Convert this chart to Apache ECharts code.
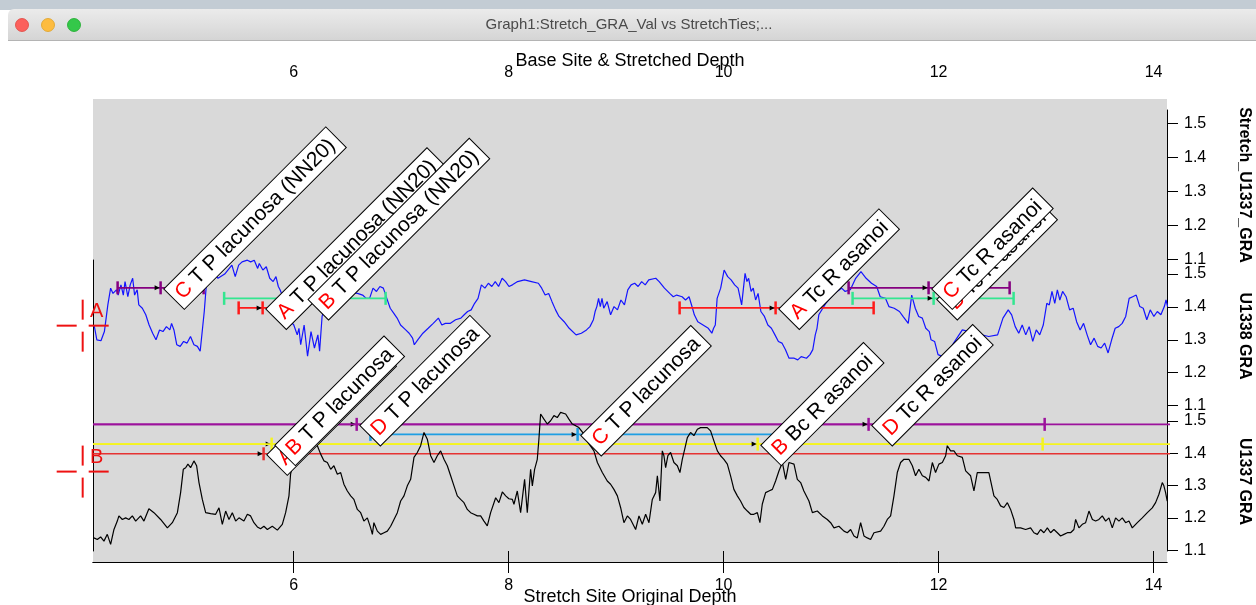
<!DOCTYPE html>
<html><head><meta charset="utf-8">
<script src="https://cdn.jsdelivr.net/npm/echarts@6/dist/echarts.min.js"></script>
<style>html,body{margin:0;padding:0;background:#fff}#c{width:1256px;height:605px}</style>
</head><body><div id="c"></div>
<script>
// ---------- DATA ----------
const depthTicks = [6, 8, 10, 12, 14];
const graTicks = [1.1, 1.2, 1.3, 1.4, 1.5];

const u1338Depth = [4.144,4.170,4.208,4.240,4.272,4.298,4.320,4.352,4.368,4.394,4.416,4.432,4.458,4.480,4.503,4.521,4.545,4.560,4.593,4.625,4.656,4.689,4.720,4.753,4.785,4.817,4.849,4.865,4.887,4.913,4.945,4.977,5.009,5.041,5.073,5.105,5.131,5.153,5.169,5.186,5.201,5.247,5.297,5.359,5.426,5.457,5.489,5.521,5.570,5.601,5.634,5.666,5.681,5.714,5.746,5.778,5.810,5.836,5.858,5.874,5.926,5.963,6.002,6.034,6.050,6.066,6.098,6.130,6.162,6.194,6.226,6.242,6.265,6.307,6.391,6.484,6.595,6.642,6.675,6.707,6.739,6.771,6.803,6.835,6.867,6.899,6.931,6.963,6.995,7.043,7.075,7.107,7.123,7.155,7.203,7.252,7.299,7.347,7.379,7.412,7.459,7.507,7.556,7.587,7.619,7.652,7.684,7.716,7.747,7.780,7.812,7.844,7.876,7.907,7.940,7.972,8.004,8.036,8.084,8.148,8.213,8.277,8.308,8.340,8.373,8.404,8.437,8.469,8.517,8.564,8.628,8.677,8.725,8.757,8.789,8.805,8.821,8.837,8.853,8.869,8.885,8.917,8.949,8.981,9.013,9.045,9.078,9.109,9.140,9.173,9.205,9.238,9.271,9.304,9.369,9.401,9.450,9.499,9.532,9.564,9.614,9.646,9.679,9.711,9.728,9.760,9.858,9.891,9.907,9.923,9.940,9.973,10.005,10.021,10.038,10.070,10.103,10.135,10.168,10.185,10.200,10.217,10.233,10.256,10.276,10.298,10.321,10.347,10.380,10.412,10.445,10.478,10.510,10.543,10.576,10.609,10.657,10.690,10.722,10.771,10.804,10.830,10.853,10.869,10.886,10.949,11.024,11.098,11.131,11.179,11.229,11.278,11.326,11.376,11.424,11.457,11.506,11.538,11.587,11.636,11.669,11.718,11.750,11.783,11.815,11.849,11.881,11.914,11.930,11.963,11.995,12.066,12.140,12.221,12.345,12.466,12.549,12.599,12.648,12.680,12.713,12.746,12.778,12.811,12.843,12.876,12.909,12.941,12.974,13.007,13.030,13.055,13.081,13.105,13.128,13.154,13.186,13.219,13.252,13.284,13.317,13.349,13.382,13.414,13.447,13.480,13.512,13.545,13.577,13.610,13.643,13.676,13.708,13.741,13.773,13.806,13.839,13.872,13.904,13.937,13.969,14.003,14.035,14.068,14.100,14.116,14.131];
const u1338Gra = [1.345,1.300,1.297,1.325,1.406,1.457,1.441,1.452,1.436,1.467,1.436,1.477,1.431,1.467,1.487,1.436,1.452,1.406,1.396,1.376,1.345,1.320,1.300,1.330,1.325,1.340,1.330,1.350,1.330,1.285,1.280,1.295,1.290,1.310,1.285,1.280,1.265,1.335,1.386,1.457,1.487,1.510,1.487,1.500,1.527,1.492,1.527,1.537,1.542,1.537,1.542,1.517,1.532,1.512,1.522,1.487,1.477,1.492,1.462,1.452,1.410,1.360,1.345,1.315,1.335,1.285,1.345,1.250,1.325,1.275,1.315,1.265,1.371,1.420,1.450,1.445,1.441,1.436,1.426,1.426,1.457,1.447,1.462,1.457,1.426,1.396,1.381,1.366,1.345,1.330,1.320,1.305,1.285,1.300,1.320,1.335,1.350,1.366,1.345,1.350,1.350,1.361,1.366,1.376,1.386,1.391,1.411,1.426,1.467,1.457,1.472,1.462,1.477,1.462,1.487,1.477,1.462,1.467,1.477,1.482,1.477,1.472,1.457,1.436,1.441,1.416,1.391,1.371,1.355,1.335,1.315,1.320,1.330,1.340,1.361,1.386,1.401,1.426,1.401,1.426,1.396,1.416,1.376,1.401,1.391,1.421,1.406,1.452,1.467,1.472,1.462,1.477,1.467,1.482,1.487,1.477,1.457,1.441,1.431,1.436,1.431,1.421,1.431,1.396,1.376,1.355,1.335,1.320,1.335,1.345,1.426,1.457,1.512,1.507,1.492,1.482,1.467,1.457,1.406,1.401,1.502,1.477,1.487,1.447,1.457,1.421,1.441,1.386,1.371,1.345,1.335,1.315,1.295,1.290,1.270,1.244,1.244,1.239,1.249,1.244,1.255,1.270,1.315,1.335,1.376,1.410,1.440,1.457,1.447,1.452,1.487,1.507,1.487,1.472,1.462,1.431,1.426,1.401,1.396,1.386,1.371,1.350,1.436,1.396,1.371,1.366,1.335,1.325,1.300,1.295,1.255,1.245,1.290,1.330,1.320,1.310,1.315,1.366,1.391,1.376,1.340,1.320,1.345,1.315,1.340,1.295,1.330,1.315,1.345,1.411,1.406,1.447,1.411,1.452,1.421,1.447,1.431,1.391,1.396,1.355,1.330,1.350,1.315,1.285,1.305,1.280,1.275,1.290,1.260,1.300,1.335,1.340,1.350,1.371,1.426,1.431,1.436,1.401,1.396,1.361,1.391,1.371,1.386,1.376,1.401,1.421,1.401];

const u1337Depth = [4.143,4.174,4.205,4.236,4.267,4.298,4.329,4.360,4.375,4.407,4.438,4.468,4.500,4.531,4.577,4.608,4.654,4.701,4.763,4.826,4.872,4.919,4.949,4.974,4.996,5.017,5.042,5.073,5.098,5.120,5.151,5.182,5.228,5.275,5.306,5.337,5.368,5.399,5.430,5.461,5.492,5.538,5.570,5.600,5.631,5.663,5.693,5.724,5.756,5.802,5.849,5.895,5.926,5.957,5.972,6.019,6.066,6.140,6.221,6.252,6.283,6.314,6.345,6.375,6.407,6.438,6.468,6.500,6.531,6.561,6.593,6.624,6.654,6.686,6.717,6.733,6.747,6.779,6.810,6.841,6.872,6.903,6.934,6.965,6.996,7.027,7.058,7.089,7.120,7.151,7.182,7.213,7.244,7.275,7.306,7.337,7.368,7.399,7.430,7.461,7.492,7.523,7.554,7.585,7.616,7.647,7.678,7.709,7.740,7.771,7.802,7.833,7.880,7.910,7.942,7.973,8.003,8.035,8.050,8.081,8.112,8.128,8.149,8.174,8.205,8.221,8.242,8.267,8.282,8.298,8.329,8.360,8.391,8.422,8.453,8.484,8.531,8.561,8.593,8.624,8.654,8.698,8.745,8.794,8.826,8.872,8.918,8.949,8.980,9.012,9.042,9.073,9.105,9.135,9.182,9.213,9.244,9.275,9.306,9.337,9.368,9.384,9.408,9.430,9.445,9.461,9.482,9.507,9.538,9.570,9.594,9.616,9.638,9.663,9.693,9.724,9.756,9.786,9.848,9.879,9.910,9.942,9.972,10.003,10.035,10.065,10.096,10.128,10.158,10.189,10.221,10.252,10.282,10.314,10.338,10.360,10.391,10.422,10.454,10.484,10.515,10.547,10.578,10.608,10.655,10.686,10.717,10.747,10.794,10.826,10.872,10.919,10.965,10.996,11.027,11.073,11.120,11.151,11.182,11.213,11.244,11.275,11.306,11.337,11.368,11.399,11.461,11.492,11.523,11.554,11.585,11.616,11.647,11.678,11.724,11.756,11.786,11.817,11.849,11.880,11.911,11.942,11.972,12.003,12.035,12.066,12.081,12.112,12.143,12.175,12.221,12.252,12.298,12.329,12.360,12.407,12.468,12.515,12.546,12.577,12.608,12.640,12.670,12.701,12.717,12.763,12.810,12.856,12.887,12.919,12.949,12.980,13.012,13.042,13.073,13.105,13.135,13.166,13.198,13.228,13.259,13.275,13.306,13.337,13.368,13.399,13.431,13.461,13.492,13.523,13.554,13.585,13.616,13.647,13.678,13.709,13.740,13.771,13.802,13.849,13.895,13.942,13.988,14.019,14.050,14.081,14.096,14.112,14.127];
const u1337Gra = [1.138,1.133,1.141,1.128,1.149,1.118,1.164,1.190,1.206,1.195,1.200,1.195,1.206,1.190,1.206,1.190,1.228,1.216,1.195,1.169,1.185,1.216,1.278,1.350,1.355,1.366,1.355,1.376,1.361,1.309,1.257,1.216,1.213,1.211,1.231,1.180,1.221,1.195,1.216,1.190,1.200,1.190,1.211,1.206,1.185,1.172,1.166,1.174,1.164,1.174,1.162,1.180,1.216,1.268,1.335,1.400,1.450,1.440,1.423,1.397,1.376,1.371,1.350,1.361,1.335,1.340,1.304,1.283,1.268,1.257,1.226,1.216,1.190,1.200,1.169,1.149,1.185,1.159,1.149,1.154,1.159,1.174,1.195,1.216,1.252,1.268,1.299,1.319,1.387,1.402,1.423,1.464,1.443,1.392,1.371,1.392,1.407,1.381,1.361,1.330,1.299,1.268,1.257,1.247,1.226,1.216,1.211,1.206,1.206,1.190,1.175,1.216,1.262,1.247,1.280,1.268,1.259,1.257,1.242,1.283,1.216,1.211,1.319,1.216,1.350,1.299,1.350,1.381,1.443,1.521,1.505,1.490,1.500,1.516,1.510,1.526,1.521,1.505,1.490,1.485,1.479,1.460,1.430,1.407,1.371,1.340,1.314,1.304,1.288,1.268,1.232,1.185,1.206,1.195,1.164,1.206,1.180,1.211,1.185,1.257,1.278,1.330,1.252,1.407,1.392,1.355,1.392,1.402,1.371,1.361,1.340,1.381,1.412,1.448,1.464,1.454,1.474,1.479,1.479,1.469,1.438,1.407,1.392,1.381,1.366,1.330,1.288,1.268,1.252,1.232,1.221,1.211,1.211,1.216,1.185,1.242,1.278,1.283,1.288,1.314,1.345,1.371,1.319,1.371,1.366,1.319,1.309,1.283,1.252,1.216,1.221,1.206,1.195,1.185,1.169,1.174,1.159,1.154,1.164,1.144,1.138,1.185,1.144,1.138,1.133,1.154,1.159,1.174,1.195,1.206,1.268,1.340,1.371,1.381,1.381,1.361,1.330,1.350,1.330,1.325,1.314,1.371,1.340,1.366,1.371,1.392,1.423,1.407,1.407,1.392,1.387,1.345,1.330,1.283,1.340,1.340,1.340,1.268,1.257,1.237,1.232,1.247,1.226,1.195,1.169,1.169,1.164,1.169,1.154,1.149,1.164,1.154,1.169,1.154,1.164,1.154,1.144,1.149,1.154,1.154,1.164,1.195,1.169,1.180,1.185,1.221,1.195,1.190,1.195,1.206,1.190,1.200,1.169,1.200,1.190,1.200,1.185,1.190,1.169,1.185,1.200,1.216,1.231,1.247,1.273,1.309,1.299,1.278,1.252];

// ties on the U1338 panel
const upperTieNames = ['C T P lacunosa (NN20)', 'A T P lacunosa (NN20)', 'B T P lacunosa (NN20)', 'A Tc R asanoi', 'B Tc R asanoi', 'C Tc R asanoi'];
const upperTieCenter = [4.763, 5.712, 6.105, 10.484, 11.954, 11.907];
const upperTieLow = [4.363, 5.489, 5.354, 9.591, 11.200, 11.163];
const upperTieHigh = [5.163, 5.935, 6.856, 11.396, 12.698, 12.661];
const upperTieGra = [1.458, 1.397, 1.426, 1.397, 1.426, 1.458];

// ties on the U1337 panel
const lowerTieNames = ['A T P lacunosa', 'B T P lacunosa', 'D T P lacunosa', 'C T P lacunosa', 'B Bc R asanoi', 'D Tc R asanoi'];
const lowerTieCenter = [5.721, 5.796, 6.587, 8.642, 10.317, 11.349];
const lowerTieLow = [-3.3, -1.372, 0.187, 6.715, 3.0, 4.0];
const lowerTieHigh = [14.74, 12.968, 12.987, 10.57, 17.6, 18.7];
const lowerTieGra = [1.398, 1.428, 1.489, 1.458, 1.428, 1.489];

// cursors
const cursorNames = ['A', 'B'];
const cursorDepth = [4.038, 4.038];
const cursorGra = [1.343, 1.343];

// ---------- STYLE ----------
const F = "'Liberation Sans', Arial, Helvetica, sans-serif";
const upperColors = {A: '#ff1a1a', B: '#33e690', C: '#850080'};
const lowerColors = {A: '#e63333', B: '#f4f41e', C: '#1f9ee3', D: '#9c129c'};
const XMIN = 4.134, XMAX = 14.125;
const LABEL_FS = 21;

function tieRender(names, colors) {
  return function (params, api) {
    const cs = params.coordSys;
    const xL = cs.x, xR = cs.x + cs.width;
    const c = api.coord([api.value(0), api.value(3)]);
    const lo = api.coord([api.value(1), api.value(3)]);
    const hi = api.coord([api.value(2), api.value(3)]);
    const col = colors[names[params.dataIndex].charAt(0)];
    const y = c[1];
    const ch = [];
    ch.push({type: 'line', shape: {x1: Math.max(lo[0], xL), y1: y, x2: Math.min(hi[0], xR + 3), y2: y}, style: {stroke: col, lineWidth: 1.6}});
    [lo[0], hi[0]].forEach(function (x) {
      if (x >= xL && x <= xR) ch.push({type: 'line', shape: {x1: x, y1: y - 6.5, x2: x, y2: y + 6.5}, style: {stroke: col, lineWidth: 2.5}});
    });
    ch.push({type: 'line', shape: {x1: c[0], y1: y - 6.5, x2: c[0], y2: y + 6.5}, style: {stroke: col, lineWidth: 2.5}});
    ch.push({type: 'polygon', shape: {points: [[c[0] - 1, y], [c[0] - 6, y - 2.5], [c[0] - 6, y + 2.5]]}, style: {fill: '#000'}});
    return {type: 'group', children: ch};
  };
}

function cursorRender(names) {
  return function (params, api) {
    const p = api.coord([api.value(0), api.value(1)]);
    const col = '#ee1111', g = 6, e = 26;
    const ls = {stroke: col, lineWidth: 2};
    return {type: 'group', children: [
      {type: 'line', shape: {x1: p[0] - e, y1: p[1], x2: p[0] - g, y2: p[1]}, style: ls},
      {type: 'line', shape: {x1: p[0] + g, y1: p[1], x2: p[0] + e, y2: p[1]}, style: ls},
      {type: 'line', shape: {x1: p[0], y1: p[1] - e, x2: p[0], y2: p[1] - g}, style: ls},
      {type: 'line', shape: {x1: p[0], y1: p[1] + g, x2: p[0], y2: p[1] + e}, style: ls},
      {type: 'text', style: {text: names[params.dataIndex], x: p[0] + 14, y: p[1] - 14, fill: col, font: '20px ' + F, align: 'center', verticalAlign: 'middle'}}
    ]};
  };
}

function tieLabel(names) {
  return {
    show: true, position: 'inside', align: 'left', verticalAlign: 'top', rotate: 45, offset: [2, 3.5],
    fontSize: LABEL_FS, fontFamily: F, color: '#000', opacity: 1,
    formatter: function (p) { const n = names[p.dataIndex]; return '{r|' + n.charAt(0) + '} {k|' + n.slice(2) + '}'; },
    backgroundColor: '#ffffff', borderColor: '#000', borderWidth: 1, padding: [3, 6, 1, 5],
    rich: {
      r: {color: '#ff0000', fontSize: LABEL_FS, fontFamily: F, lineHeight: 24},
      k: {color: '#000000', fontSize: LABEL_FS, fontFamily: F, lineHeight: 24}
    }
  };
}

const valAxisBase = {type: 'value', show: false, min: XMIN, max: XMAX};
function depthAxis(pos, name, gap, margin) {
  return {
    type: 'value', gridIndex: 0, position: pos, min: XMIN, max: XMAX,
    name: name, nameLocation: 'middle', nameGap: gap, nameMoveOverlap: false,
    nameTextStyle: {fontSize: 18, color: '#000', fontFamily: F},
    axisLine: {show: true, lineStyle: {color: '#000', width: 1}},
    axisTick: {show: true, customValues: depthTicks, length: 11, lineStyle: {color: '#000', width: 1}},
    axisLabel: {show: true, customValues: depthTicks, fontSize: 16, color: '#000', fontFamily: F, margin: margin},
    splitLine: {show: false}
  };
}
function graAxis(grid, min, max, name) {
  return {
    type: 'value', gridIndex: grid, position: 'right', min: min, max: max,
    name: name, nameLocation: 'middle', nameRotate: -90, nameGap: 69, nameMoveOverlap: false,
    nameTextStyle: {fontSize: 16, fontWeight: 'bold', color: '#000', fontFamily: F},
    axisLine: {show: true, lineStyle: {color: '#000', width: 1}},
    axisTick: {show: true, customValues: graTicks, length: 11, lineStyle: {color: '#000', width: 1}},
    axisLabel: {show: true, customValues: graTicks, fontSize: 16, color: '#000', fontFamily: F, margin: 17,
      formatter: function (v) { return v.toFixed(1); }},
    splitLine: {show: false}
  };
}
function leftLine(grid, min, max) {
  return {type: 'value', gridIndex: grid, position: 'left', min: min, max: max,
    axisLine: {show: true, lineStyle: {color: '#000', width: 1}}, axisTick: {show: false}, axisLabel: {show: false}, splitLine: {show: false}};
}

const zip = (a, b) => a.map((v, i) => [v, b[i]]);
const gridBase = {left: 93, right: 89, containLabel: false, outerBoundsMode: 'none'};

const chart = echarts.init(document.getElementById('c'), null, {renderer: 'canvas'});
chart.setOption({
  animation: false,
  backgroundColor: '#ffffff',
  graphic: [
    {type: 'rect', shape: {x: 0, y: 0, width: 1256, height: 10}, style: {fill: '#c3ccd4'}, silent: true},
    {type: 'rect', shape: {x: 8, y: 9, width: 1248, height: 32, r: [6, 0, 0, 0]}, silent: true,
      style: {fill: new echarts.graphic.LinearGradient(0, 0, 0, 1, [{offset: 0, color: '#ebebeb'}, {offset: 1, color: '#d4d4d4'}])}},
    {type: 'line', shape: {x1: 8, y1: 40.5, x2: 1256, y2: 40.5}, style: {stroke: '#b4b4b4', lineWidth: 1}, silent: true},
    {type: 'circle', shape: {cx: 22, cy: 25, r: 6.5}, style: {fill: '#fc605c', stroke: '#e0443e', lineWidth: 0.8}, silent: true},
    {type: 'circle', shape: {cx: 48, cy: 25, r: 6.5}, style: {fill: '#fdbc40', stroke: '#dea123', lineWidth: 0.8}, silent: true},
    {type: 'circle', shape: {cx: 74, cy: 25, r: 6.5}, style: {fill: '#34c84a', stroke: '#1aab29', lineWidth: 0.8}, silent: true},
    {type: 'text', silent: true, style: {text: 'Graph1:Stretch_GRA_Val vs StretchTies;...', x: 629, y: 25, align: 'center', verticalAlign: 'middle', font: '15px ' + F, fill: '#4a4a4a'}}
  ],
  grid: [
    Object.assign({top: 99, bottom: 43, show: true, backgroundColor: '#d9d9d9', borderWidth: 0}, gridBase),
    Object.assign({top: 110, height: 150}, gridBase),
    Object.assign({top: 260, height: 152}, gridBase),
    Object.assign({top: 412, height: 139}, gridBase)
  ],
  xAxis: [
    depthAxis('top', 'Base Site & Stretched Depth', 29, 18),
    depthAxis('bottom', 'Stretch Site Original Depth', 26, 16),
    Object.assign({gridIndex: 1}, valAxisBase),
    Object.assign({gridIndex: 2}, valAxisBase),
    Object.assign({gridIndex: 3}, valAxisBase)
  ],
  yAxis: [
    {type: 'value', gridIndex: 0, show: false, min: 0, max: 1},
    graAxis(1, 1.098, 1.539, 'Stretch_U1337_GRA'),
    graAxis(2, 1.0805, 1.5426, 'U1338 GRA'),
    graAxis(3, 1.0975, 1.5272, 'U1337 GRA'),
    leftLine(2, 1.0805, 1.5426),
    leftLine(3, 1.0975, 1.5272)
  ],
  series: [
    {type: 'line', name: 'U1338 GRA', xAxisIndex: 3, yAxisIndex: 2, data: zip(u1338Depth, u1338Gra),
      showSymbol: false, symbol: 'none', clip: false, z: 2, lineStyle: {color: '#1414ff', width: 1.2}},
    {type: 'custom', name: 'upper ties', xAxisIndex: 3, yAxisIndex: 2, z: 3,
      data: upperTieNames.map((n, i) => [upperTieCenter[i], upperTieLow[i], upperTieHigh[i], upperTieGra[i]]),
      renderItem: tieRender(upperTieNames, upperColors)},
    {type: 'custom', name: 'lower ties', xAxisIndex: 4, yAxisIndex: 3, z: 2,
      data: lowerTieNames.map((n, i) => [lowerTieCenter[i], lowerTieLow[i], lowerTieHigh[i], lowerTieGra[i]]),
      renderItem: tieRender(lowerTieNames, lowerColors)},
    {type: 'line', name: 'U1337 GRA', xAxisIndex: 4, yAxisIndex: 3, data: zip(u1337Depth, u1337Gra),
      showSymbol: false, symbol: 'none', clip: false, z: 3, lineStyle: {color: '#000000', width: 1.2}},
    {type: 'scatter', name: 'upper labels', xAxisIndex: 3, yAxisIndex: 2, z: 10, silent: true,
      symbolSize: 1, itemStyle: {color: 'transparent', opacity: 1},
      data: upperTieCenter.map((c, i) => [c, upperTieGra[i]]), label: tieLabel(upperTieNames)},
    {type: 'scatter', name: 'lower labels', xAxisIndex: 4, yAxisIndex: 3, z: 10, silent: true,
      symbolSize: 1, itemStyle: {color: 'transparent', opacity: 1},
      data: lowerTieCenter.map((c, i) => [c, lowerTieGra[i]]), label: tieLabel(lowerTieNames)},
    {type: 'custom', name: 'cursor A', xAxisIndex: 3, yAxisIndex: 2, z: 12, clip: false,
      data: [[cursorDepth[0], cursorGra[0]]], renderItem: cursorRender([cursorNames[0]])},
    {type: 'custom', name: 'cursor B', xAxisIndex: 4, yAxisIndex: 3, z: 12, clip: false,
      data: [[cursorDepth[1], cursorGra[1]]], renderItem: cursorRender([cursorNames[1]])}
  ]
});
</script></body></html>
